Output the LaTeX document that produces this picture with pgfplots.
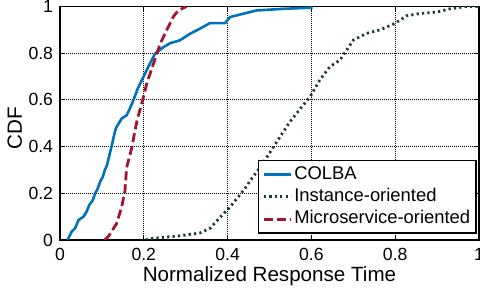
\documentclass[border=0pt]{standalone}
\usepackage{fontspec}
\setmainfont{Liberation Sans}
\usepackage{pgfplots}
\pgfplotsset{compat=1.18}
\definecolor{colba}{HTML}{0072BD}
\definecolor{micro}{HTML}{A2142F}
\definecolor{inst}{RGB}{28,58,42}
\begin{document}
\begin{tikzpicture}
\begin{axis}[
  scale only axis,
  width=209.5pt, height=116.75pt,
  xmin=0, xmax=1, ymin=0, ymax=1,
  xtick={0,0.2,0.4,0.6,0.8,1},
  ytick={0,0.2,0.4,0.6,0.8,1},
  /pgf/number format/assume math mode=true,
  tick align=inside,
  major tick length=2.5pt,
  tick style={black, line width=0.5pt},
  axis line style={black, line width=0.9pt},
  grid=major,
  major grid style={black, dash pattern=on 0.5pt off 0.5pt, line width=0.5pt},
  ticklabel style={font=\fontsize{8.8}{10}\selectfont},
  yticklabel style={anchor=east, inner sep=0pt, xshift=-3.3pt},
  xticklabel style={anchor=north, inner sep=0pt, yshift=-4pt},
  xlabel={Normalized Response Time},
  ylabel={CDF},
  label style={font=\fontsize{10.3}{12}\selectfont},
  xlabel style={at={(axis description cs:0.5,-0.177)}, anchor=base},
  ylabel style={at={(axis description cs:-0.091,0.48)}, rotate=0, anchor=base},
  legend cell align=left,
  legend image code/.code={\draw[#1] (0pt,0pt) -- (13.5pt,0pt);},
  legend style={at={(axis description cs:1,0)}, anchor=south east,
    xshift=-1pt, yshift=3pt,
    draw=black, line width=0.8pt, fill=white,
    inner xsep=2pt, inner ysep=1.4pt, row sep=0pt,
    font=\fontsize{9.2}{11}\selectfont,
    nodes={inner sep=1pt, text height=7pt, text depth=2.2pt}},
]
\addplot[colba, line width=1.3pt] coordinates {
(0.018,0) (0.028,0.036) (0.036,0.05) (0.044,0.085) (0.056,0.10) (0.063,0.12) (0.070,0.15)
(0.078,0.17) (0.084,0.20) (0.090,0.22) (0.096,0.25) (0.102,0.27) (0.107,0.30) (0.112,0.32) (0.116,0.35) (0.123,0.40)
(0.128,0.44) (0.132,0.47) (0.135,0.484) (0.147,0.52) (0.159,0.534) (0.166,0.56)
(0.175,0.598) (0.186,0.65) (0.199,0.698) (0.213,0.75) (0.227,0.798)
(0.247,0.826) (0.263,0.843) (0.286,0.855) (0.310,0.883) (0.334,0.905)
(0.358,0.929) (0.394,0.929) (0.406,0.955) (0.469,0.983) (0.533,0.99)
(0.60,0.995) (0.60,1.0)
};
\addlegendentry{COLBA}
\addplot[inst, line width=1.4pt, dash pattern=on 1.1pt off 1.6pt] coordinates {
(0.205,0.0) (0.215,0.006) (0.286,0.018) (0.334,0.03) (0.358,0.05)
(0.382,0.097) (0.404,0.138) (0.437,0.21) (0.458,0.264) (0.473,0.30)
(0.497,0.364) (0.519,0.425) (0.549,0.507) (0.577,0.57) (0.597,0.614)
(0.62,0.685) (0.644,0.742) (0.668,0.77) (0.684,0.813) (0.70,0.856)
(0.732,0.885) (0.764,0.90) (0.80,0.928) (0.827,0.96) (0.859,0.97)
(0.899,0.976) (0.931,0.99) (0.97,1.0) (1.0,1.0)
};
\addlegendentry{Instance-oriented}
\addplot[micro, line width=1.4pt, dash pattern=on 4.5pt off 2pt] coordinates {
(0.106,0) (0.115,0.014) (0.135,0.07) (0.147,0.14) (0.155,0.21)
(0.159,0.31) (0.172,0.40) (0.178,0.46) (0.185,0.52) (0.196,0.59)
(0.207,0.67) (0.223,0.755) (0.239,0.84) (0.255,0.90) (0.270,0.955)
(0.282,0.983) (0.302,1.0)
};
\addlegendentry{Microservice-oriented}
\end{axis}
\pgfresetboundingbox
\path ([xshift=-30pt,yshift=-26pt]current axis.south west) rectangle ([xshift=0.5pt,yshift=3.25pt]current axis.north east);
\end{tikzpicture}
\end{document}
